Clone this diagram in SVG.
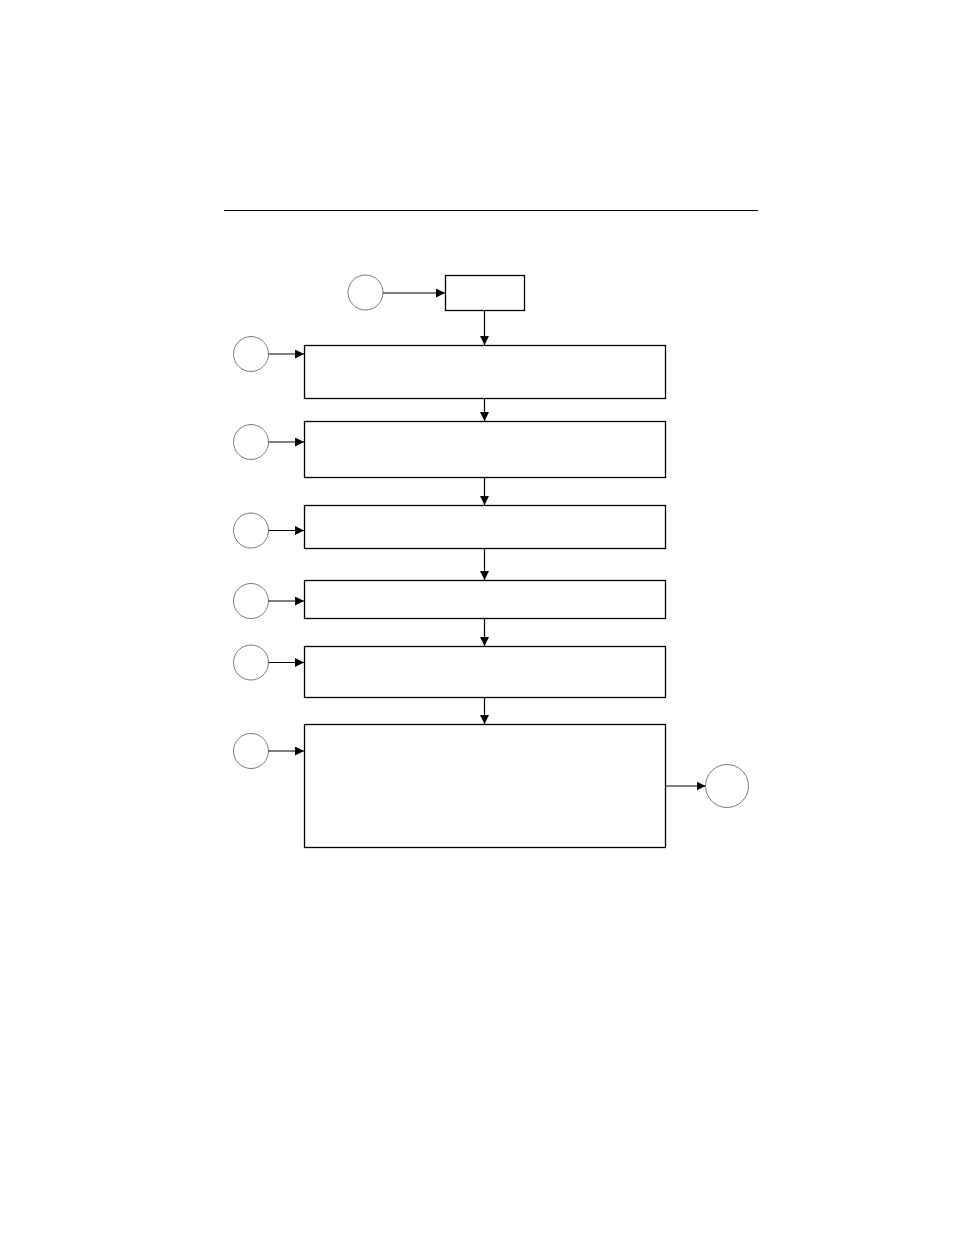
<svg xmlns="http://www.w3.org/2000/svg" width="954" height="1235" viewBox="0 0 954 1235">
<style>
.box{fill:#fff;stroke:#000;stroke-width:1.3}
.circ{fill:#fff;stroke:#7a7a7a;stroke-width:1}
.conn{fill:none;stroke:#000;stroke-width:1.2}
</style>
<defs>
<marker id="ah" markerWidth="10" markerHeight="10" refX="9" refY="4.5" orient="auto" markerUnits="userSpaceOnUse">
<path d="M0,0 L9,4.5 L0,9 Z" fill="#000"/>
</marker>
</defs>
<rect width="954" height="1235" fill="#fff"/>
<line x1="224" y1="210.5" x2="758" y2="210.5" stroke="#000" stroke-width="1.2"/>
<g id="start"><circle class="circ" cx="365.5" cy="292.5" r="17.5"/></g>
<g id="top"><rect class="box" x="445.5" y="275.5" width="79" height="35"/></g>
<g id="c1"><circle class="circ" cx="251" cy="354" r="17.5"/></g>
<g id="b1"><rect class="box" x="304.5" y="345.5" width="361" height="53"/></g>
<g id="c2"><circle class="circ" cx="251" cy="442" r="17.5"/></g>
<g id="b2"><rect class="box" x="304.5" y="421.5" width="361" height="56"/></g>
<g id="c3"><circle class="circ" cx="251" cy="530.5" r="17.5"/></g>
<g id="b3"><rect class="box" x="304.5" y="505.5" width="361" height="43"/></g>
<g id="c4"><circle class="circ" cx="251" cy="601" r="17.5"/></g>
<g id="b4"><rect class="box" x="304.5" y="580.5" width="361" height="38"/></g>
<g id="c5"><circle class="circ" cx="251" cy="662.5" r="17.5"/></g>
<g id="b5"><rect class="box" x="304.5" y="646.5" width="361" height="51"/></g>
<g id="c6"><circle class="circ" cx="251" cy="751" r="17.5"/></g>
<g id="b6"><rect class="box" x="304.5" y="724.5" width="361" height="123"/></g>
<g id="end"><circle class="circ" cx="727" cy="786" r="21.5"/></g>
<g id="connectors">
<line class="conn" x1="383" y1="293" x2="445" y2="293" marker-end="url(#ah)"/>
<line class="conn" x1="484.5" y1="311" x2="484.5" y2="345" marker-end="url(#ah)"/>
<line class="conn" x1="268.5" y1="354" x2="304" y2="354" marker-end="url(#ah)"/>
<line class="conn" x1="484.5" y1="399" x2="484.5" y2="421" marker-end="url(#ah)"/>
<line class="conn" x1="268.5" y1="442" x2="304" y2="442" marker-end="url(#ah)"/>
<line class="conn" x1="484.5" y1="478" x2="484.5" y2="505" marker-end="url(#ah)"/>
<line class="conn" x1="268.5" y1="530.5" x2="304" y2="530.5" marker-end="url(#ah)"/>
<line class="conn" x1="484.5" y1="549" x2="484.5" y2="580" marker-end="url(#ah)"/>
<line class="conn" x1="268.5" y1="601" x2="304" y2="601" marker-end="url(#ah)"/>
<line class="conn" x1="484.5" y1="619" x2="484.5" y2="646" marker-end="url(#ah)"/>
<line class="conn" x1="268.5" y1="662.5" x2="304" y2="662.5" marker-end="url(#ah)"/>
<line class="conn" x1="484.5" y1="698" x2="484.5" y2="724" marker-end="url(#ah)"/>
<line class="conn" x1="268.5" y1="751" x2="304" y2="751" marker-end="url(#ah)"/>
<line class="conn" x1="666" y1="786" x2="705.5" y2="786" marker-end="url(#ah)"/>
</g>
</svg>
